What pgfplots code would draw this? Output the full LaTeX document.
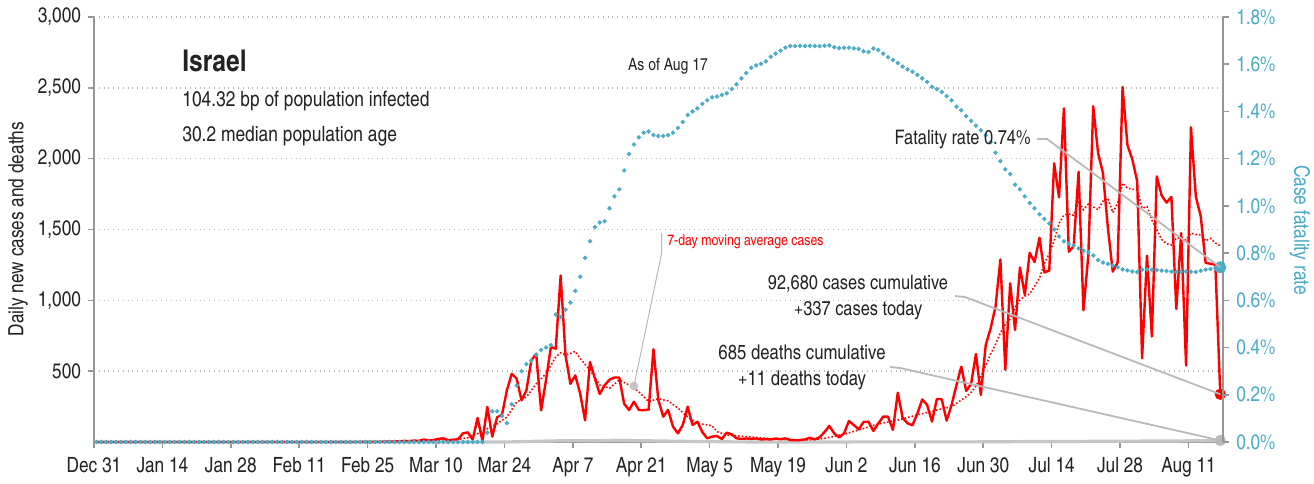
\documentclass[border=0pt]{standalone}
\usepackage{fontspec}
\setmainfont{texgyreheroscn}[Extension=.otf, UprightFont=*-regular, BoldFont=*-bold, ItalicFont=*-italic, BoldItalicFont=*-bolditalic]
\usepackage{pgfplots}
\pgfplotsset{compat=1.18}
\definecolor{cfr}{RGB}{75,172,198}
\definecolor{axgray}{RGB}{150,150,150}
\definecolor{gridgray}{RGB}{185,185,185}
\definecolor{txt}{RGB}{35,35,35}
\definecolor{lead}{RGB}{185,185,185}

\begin{document}
\begin{tikzpicture}
\useasboundingbox (-47pt,-20.5pt) rectangle (610pt,221pt);
\pgfplotsset{
  base/.style={
    at={(0,0)}, anchor=south west, scale only axis,
    width=564.6pt, height=212.5pt,
    xmin=-0.5, xmax=230.6,
    /pgf/number format/assume math mode=true,
    tick align=outside, major tick length=3pt,
    tick style={axgray, line width=0.8pt},
    axis line style={-, axgray, line width=0.8pt},
    clip=false,
  }
}
% daily cases, 7-day average, deaths
\begin{axis}[base,
  ymin=0, ymax=3000,
  axis y line*=left, axis x line*=bottom,
  xtick={-0.5,13.5,27.5,41.5,55.5,69.5,83.5,97.5,111.5,125.5,139.5,153.5,167.5,181.5,195.5,209.5,223.5},
  xticklabels={Dec 31,Jan 14,Jan 28,Feb 11,Feb 25,Mar 10,Mar 24,Apr 7,Apr 21,May 5,May 19,Jun 2,Jun 16,Jun 30,Jul 14,Jul 28,Aug 11},
  ytick={500,1000,1500,2000,2500,3000},
  /pgf/number format/1000 sep={,},
  ymajorgrids, grid style={dotted, gridgray, line width=0.7pt},
  xticklabel style={font=\fontsize{10.5}{12}\selectfont, text=txt, yshift=-1pt},
  yticklabel style={font=\fontsize{10.5}{12}\selectfont, text=txt},
]
\addplot[gray!45, line width=1.6pt] coordinates {
(0,0) (84,0) (86,2) (90,5) (94,8) (98,10) (102,9) (106,12) (110,10) (114,8) (118,6) (122,4) (126,3) (130,1) (140,0) (160,1) (180,1) (190,3) (200,4) (210,6) (220,7) (230,11)};

\addplot[red, densely dotted, line width=0.8pt] coordinates {
(0,0) (60,1) (65,5) (70,12) (74,18) (76,30) (78,59) (80,94) (82,129) (84,176) (86,282) (88,317) (90,411) (92,482) (94,600) (95,630) (96,615) (97,625) (98,640) (99,590) (101,508) (103,402) (105,379) (107,438) (109,402) (111,355) (113,285) (115,305) (117,290) (119,240) (121,175) (123,132) (126,115) (127,73) (129,49) (133,38) (137,26) (140,19) (144,14) (147,17) (149,26) (151,40) (153,55) (156,85) (160,127) (164,155) (168,191) (172,226) (175,249) (178,320) (179,350) (180,395) (181,460) (182,540) (183,620) (184,690) (185,770) (186,830) (187,870) (188,950) (189,1002) (190,1030) (191,1045) (192,1100) (193,1156) (194,1260) (195,1330) (196,1420) (197,1544) (198,1602) (199,1610) (200,1600) (201,1700) (202,1640) (203,1680) (204,1660) (205,1640) (206,1700) (207,1720) (208,1620) (209,1685) (210,1827) (211,1792) (212,1785) (213,1780) (214,1650) (215,1662) (216,1567) (217,1500) (218,1430) (219,1400) (220,1391) (221,1440) (222,1440) (223,1427) (224,1474) (225,1465) (226,1462) (227,1420) (228,1438) (229,1405) (230,1385)};

\addplot[red, line width=1.2pt, line join=round] coordinates {
(0,0) (54,0) (55,1) (56,0) (57,2) (58,1) (59,3) (60,2) (61,4) (62,5) (63,8) (64,6) (65,10) (66,8) (67,18) (68,10) (69,14) (70,22) (71,26) (72,12) (73,16) (74,20) (75,61) (76,68) (77,17) (78,170) (79,8) (80,248) (81,38) (82,175) (83,192) (84,365) (85,482) (86,447) (87,294) (88,365) (89,576) (90,623) (91,223) (92,435) (93,670) (94,658) (95,1175) (96,611) (97,411) (98,470) (99,341) (100,153) (101,565) (102,450) (103,339) (104,400) (105,440) (106,455) (107,455) (108,270) (109,226) (110,285) (111,226) (112,225) (113,228) (114,655) (115,296) (116,179) (117,226) (118,108) (119,61) (120,120) (121,249) (122,120) (123,143) (124,70) (125,26) (126,38) (127,42) (128,21) (129,66) (130,54) (131,26) (132,22) (133,25) (134,22) (135,25) (136,18) (137,20) (138,18) (139,25) (140,20) (141,26) (142,14) (143,12) (144,14) (145,18) (146,30) (147,19) (148,33) (149,70) (150,113) (151,60) (152,33) (153,61) (154,148) (155,120) (156,89) (157,141) (158,144) (159,78) (160,130) (161,179) (162,179) (163,85) (164,348) (165,170) (166,132) (167,118) (168,200) (169,300) (170,262) (171,144) (172,304) (173,301) (174,151) (175,260) (176,400) (177,532) (178,360) (179,410) (180,622) (181,332) (182,685) (183,802) (184,955) (185,1288) (186,510) (187,1120) (188,791) (189,1232) (190,1038) (191,1335) (192,1270) (193,1442) (194,1197) (195,1210) (196,1967) (197,1727) (198,2355) (199,1343) (200,1383) (201,1908) (202,930) (203,1320) (204,2370) (205,2038) (206,1897) (207,1510) (208,1203) (209,1268) (210,2505) (211,2097) (212,1995) (213,1840) (214,591) (215,1315) (216,744) (217,1875) (218,1740) (219,1690) (220,1730) (221,940) (222,1475) (223,540) (224,2222) (225,1732) (226,1593) (227,1265) (228,1258) (229,1252) (230,337)};

% annotation markers
\addplot[only marks, mark=*, mark size=2pt, color=gray!45] coordinates {(110,395)};
\addplot[only marks, mark=*, mark size=2.6pt, color=gray!55] coordinates {(230,11)};
\addplot[only marks, mark=*, mark size=2.6pt, color=red] coordinates {(230,337)};
\coordinate (madot) at (axis cs:110,395);
\coordinate (greyend) at (axis cs:230,11);
\coordinate (redend) at (axis cs:230,337);
\end{axis}

% case fatality rate
\begin{axis}[base,
  ymin=0, ymax=1.8,
  axis y line*=right, axis x line=none,
  ytick={0,0.2,0.4,0.6,0.8,1.0,1.2,1.4,1.6,1.8},
  yticklabel={\pgfmathprintnumber[fixed,fixed zerofill,precision=1]{\tick}\%},
  yticklabel style={font=\fontsize{10.5}{12}\selectfont, text=cfr},
]
\addplot[only marks, mark=*, mark size=0.9pt, color=cfr] coordinates {
(0,0) (1,0) (2,0) (3,0) (4,0) (5,0) (6,0) (7,0) (8,0) (9,0) (10,0) (11,0) (12,0) (13,0) (14,0) (15,0) (16,0) (17,0) (18,0) (19,0) (20,0) (21,0) (22,0) (23,0) (24,0) (25,0) (26,0) (27,0) (28,0) (29,0) (30,0) (31,0) (32,0) (33,0) (34,0) (35,0) (36,0) (37,0) (38,0) (39,0) (40,0) (41,0) (42,0) (43,0) (44,0) (45,0) (46,0) (47,0) (48,0) (49,0) (50,0) (51,0) (52,0) (53,0) (54,0) (55,0) (56,0) (57,0) (58,0) (59,0) (60,0) (61,0) (62,0) (63,0) (64,0) (65,0) (66,0) (67,0) (68,0) (69,0) (70,0) (71,0) (72,0) (73,0) (74,0) (75,0) (76,0) (77,0) (78,0) (79,0)
(80,0.04) (81,0.13) (82,0.13) (83,0.11) (84,0.08) (85,0.16) (86,0.24) (87,0.30) (88,0.33) (89,0.345) (90,0.37) (91,0.39) (92,0.40) (93,0.41) (94,0.54) (95,0.53) (96,0.56) (97,0.59) (98,0.64) (99,0.70) (100,0.78) (101,0.85) (102,0.91) (103,0.93) (104,0.935) (105,0.99) (106,1.04) (107,1.07) (108,1.15) (109,1.22) (110,1.26) (111,1.29) (112,1.31) (113,1.315) (114,1.30) (115,1.296) (116,1.296) (117,1.30) (118,1.31) (119,1.33) (120,1.355) (121,1.385) (122,1.40) (123,1.413) (124,1.432) (125,1.447) (126,1.46) (127,1.463) (128,1.47) (129,1.477) (130,1.495) (131,1.515) (132,1.54) (133,1.563) (134,1.585) (135,1.595) (136,1.602) (137,1.612) (138,1.632) (139,1.645) (140,1.657) (141,1.67) (142,1.677) (143,1.677) (144,1.678) (145,1.677) (146,1.678) (147,1.677) (148,1.677) (149,1.678) (150,1.68) (151,1.672) (152,1.668) (153,1.67) (154,1.67) (155,1.667) (156,1.665) (157,1.655) (158,1.652) (159,1.667) (160,1.66) (161,1.645) (162,1.63) (163,1.618) (164,1.605) (165,1.59) (166,1.578) (167,1.568) (168,1.555) (169,1.54) (170,1.525) (171,1.505) (172,1.495) (173,1.482) (174,1.465) (175,1.447) (176,1.42) (177,1.405) (178,1.38) (179,1.36) (180,1.34) (181,1.32) (182,1.30) (183,1.27) (184,1.225) (185,1.19) (186,1.155) (187,1.135) (188,1.09) (189,1.07) (190,1.04) (191,1.012) (192,0.99) (193,0.965) (194,0.945) (195,0.925) (196,0.90) (197,0.87) (198,0.85) (199,0.84) (200,0.832) (201,0.82) (202,0.81) (203,0.803) (204,0.79) (205,0.77) (206,0.76) (207,0.754) (208,0.747) (209,0.74) (210,0.731) (211,0.727) (212,0.722) (213,0.72) (214,0.73) (215,0.731) (216,0.73) (217,0.728) (218,0.726) (219,0.724) (220,0.722) (221,0.72) (222,0.721) (223,0.722) (224,0.721) (225,0.72) (226,0.725) (227,0.73) (228,0.733) (229,0.736) (230,0.74)};
\addplot[only marks, mark=*, mark size=2.8pt, color=cfr] coordinates {(230,0.74)};
\coordinate (blueend) at (axis cs:230,0.74);
\end{axis}

% texts and leader lines, in pixel units of the reference
\begin{scope}[x=0.5pt, y=-0.5pt, shift={(-47pt,221pt)}]
\node[anchor=west, text=txt, font=\fontsize{15}{17}\selectfont\bfseries, inner sep=0pt] at (182,61) {Israel};
\node[anchor=west, text=txt, font=\fontsize{10.6}{12}\selectfont, inner sep=0pt] at (182,101) {104.32 bp of population infected};
\node[anchor=west, text=txt, font=\fontsize{10.6}{12}\selectfont, inner sep=0pt] at (182,136) {30.2 median population age};
\node[text=txt, font=\fontsize{8.5}{10}\selectfont, inner sep=0pt] at (668,66) {As of Aug 17};
\node[anchor=west, text=red, font=\fontsize{7.5}{9}\selectfont, inner sep=0pt] at (667,242) {7-day moving average cases};
\node[anchor=east, text=txt, font=\fontsize{10}{12}\selectfont, inner sep=0pt] at (1031,139) {Fatality rate 0.74\%};
\node[align=center, text=txt, font=\fontsize{10}{13}\selectfont, inner sep=0pt] at (858,297) {92,680 cases cumulative\\+337 cases today};
\node[align=center, text=txt, font=\fontsize{10.2}{13}\selectfont, inner sep=0pt] at (802,367) {685 deaths cumulative\\+11 deaths today};
\node[rotate=90, text=txt, font=\fontsize{10.5}{12}\selectfont, inner sep=0pt] at (18,229) {Daily new cases and deaths};
\node[rotate=-90, text=cfr, font=\fontsize{10.6}{12}\selectfont, inner sep=0pt] at (1300,230) {Case fatality rate};
\draw[lead, line width=0.5pt] (661.7,233) -- (661.7,253) -- (madot);
\draw[lead, line width=0.9pt] (1037,139) -- (1047,139) -- (blueend);
\draw[lead, line width=0.9pt] (955,296) -- (965,297) -- (redend);
\draw[lead, line width=0.9pt] (890,367) -- (900,368) -- (greyend);
\end{scope}
\end{tikzpicture}
\end{document}
